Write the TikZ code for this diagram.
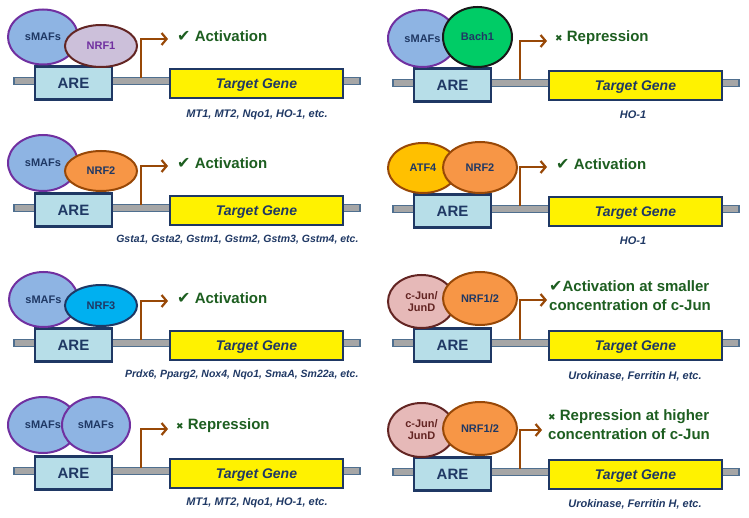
\documentclass[tikz,border=0pt]{standalone}
\usepackage{fontspec}
\setmainfont{Liberation Sans}
\newfontfamily\symfont{DejaVu Sans}
\usetikzlibrary{shapes.geometric, arrows.meta, positioning}
\definecolor{mnavy}{HTML}{1F3864}
\definecolor{mgreen}{HTML}{1D5E20}
\definecolor{mbrown}{HTML}{984807}
\definecolor{mdna}{HTML}{A6A6A6}
\definecolor{mdnaedge}{HTML}{4F6F8F}
\definecolor{mare}{HTML}{B7DEE8}
\definecolor{mmaf}{HTML}{8EB4E3}
\definecolor{mpurp}{HTML}{7030A0}
\definecolor{mlilac}{HTML}{CCC0DA}
\definecolor{mmaroon}{HTML}{632523}
\definecolor{morange}{HTML}{F79646}
\definecolor{mgold}{HTML}{FFC000}
\definecolor{mcyan}{HTML}{00B0F0}
\definecolor{mbach}{HTML}{00CC66}
\definecolor{mpink}{HTML}{E6B9B8}
\newcommand{\markyes}{{\symfont\fontsize{16}{16}\selectfont ✔}}
\newcommand{\markno}{{\symfont\fontsize{9}{9}\selectfont ✖}}
\tikzstyle{dna} = [rectangle, minimum width=346, minimum height=7, inner sep=0, fill=mdna, draw=mdnaedge, line width=1.2pt]
\tikzstyle{are} = [rectangle, minimum width=77, minimum height=33, fill=mare, draw=mnavy, line width=2.5pt, text=mnavy, text depth=0pt, font=\bfseries\fontsize{15}{15}\selectfont]
\tikzstyle{gene} = [rectangle, minimum width=173, minimum height=29, fill=yellow, draw=mnavy, line width=2.5pt, text=mnavy, text depth=0pt, font=\bfseries\itshape\fontsize{14}{14}\selectfont]
\tikzstyle{factor} = [ellipse, inner sep=0, line width=2pt, text=mnavy, font=\bfseries\fontsize{11}{12}\selectfont, align=center]
\tikzstyle{maf} = [factor, fill=mmaf, draw=mpurp]
\tikzstyle{nrf} = [factor, fill=morange, draw=mbrown]
\tikzstyle{jun} = [factor, fill=mpink, draw=mmaroon, text=mmaroon]
\tikzstyle{effect} = [anchor=west, inner sep=0, text=mgreen, font=\bfseries\fontsize{15}{19}\selectfont, align=left]
\tikzstyle{targets} = [text=mnavy, font=\bfseries\itshape\fontsize{11}{11}\selectfont]
\tikzstyle{longtargets} = [targets, anchor=east, font=\bfseries\itshape\fontsize{10.5}{11}\selectfont]
\tikzstyle{cable} = [line width=2.2pt, mbrown, -{Straight Barb[length=5pt,width=12pt]}]

\begin{document}
\begin{tikzpicture}[x=1pt, y=-1pt]
  \useasboundingbox (0,0) rectangle (749,518);
  % sMAFs + NRF1
  \begin{scope}[shift={(0,81)}]
    \node (dna1) [dna] at (187,0) {};
    \node (are1) [are] at (73.5,2) {ARE};
    \node (gene1) [gene] at (256.5,2.5) {Target Gene};
    \node (maf1) [maf, minimum width=70, minimum height=55] at (43,-44) {sMAFs};
    \node (nrf1) [factor, fill=mlilac, draw=mmaroon, text=mpurp, minimum width=72, minimum height=42] at (101,-35) {NRF1};
    \coordinate (tss1) at (141,-3);
    \node (eff1) [effect] at (177,-45) {\markyes\ Activation};
    \draw [cable] (tss1) |- ([xshift=-9pt,yshift=-3pt]eff1.west);
    \node (list1) [targets] at (257,34) {MT1, MT2, Nqo1, HO-1, etc.};
  \end{scope}
  % sMAFs + Bach1
  \begin{scope}[shift={(379,83)}]
    \node (dna2) [dna] at (187,0) {};
    \node (are2) [are] at (73.5,2) {ARE};
    \node (gene2) [gene] at (256.5,2.5) {Target Gene};
    \node (maf2) [maf, minimum width=69, minimum height=57] at (43.5,-44.5) {sMAFs};
    \node (bach2) [factor, fill=mbach, draw=black!90, minimum width=69, minimum height=60] at (98.5,-46) {Bach1};
    \coordinate (tss2) at (141,-3);
    \node (eff2) [effect] at (176,-45) {\markno\ Repression};
    \draw [cable] (tss2) |- ([xshift=-8pt,yshift=-3pt]eff2.west);
    \node (list2) [targets] at (254,32) {HO-1};
  \end{scope}
  % sMAFs + NRF2
  \begin{scope}[shift={(0,208)}]
    \node (dna3) [dna] at (187,0) {};
    \node (are3) [are] at (73.5,2) {ARE};
    \node (gene3) [gene] at (256.5,2.5) {Target Gene};
    \node (maf3) [maf, minimum width=70, minimum height=56] at (43,-45) {sMAFs};
    \node (nrf3) [nrf, minimum width=72, minimum height=40] at (101,-37) {NRF2};
    \coordinate (tss3) at (141,-3);
    \node (eff3) [effect] at (177,-45) {\markyes\ Activation};
    \draw [cable] (tss3) |- ([xshift=-9pt,yshift=-3pt]eff3.west);
    \node (list3) [longtargets] at (362,32) {Gsta1, Gsta2, Gstm1, Gstm2, Gstm3, Gstm4, etc.};
  \end{scope}
  % ATF4 + NRF2
  \begin{scope}[shift={(379,209)}]
    \node (dna4) [dna] at (187,0) {};
    \node (are4) [are] at (73.5,2) {ARE};
    \node (gene4) [gene] at (256.5,2.5) {Target Gene};
    \node (atf4) [factor, fill=mgold, draw=mbrown, minimum width=70, minimum height=50] at (44,-41) {ATF4};
    \node (nrf4) [nrf, minimum width=74, minimum height=51] at (101,-41.5) {NRF2};
    \coordinate (tss4) at (141,-3);
    \node (eff4) [effect] at (177,-45) {\markyes\ Activation};
    \draw [cable] (tss4) |- ([xshift=-9pt,yshift=-3pt]eff4.west);
    \node (list4) [targets] at (254,32) {HO-1};
  \end{scope}
  % sMAFs + NRF3
  \begin{scope}[shift={(0,343)}]
    \node (dna5) [dna] at (187,0) {};
    \node (are5) [are] at (73.5,2) {ARE};
    \node (gene5) [gene] at (256.5,2.5) {Target Gene};
    \node (maf5) [maf, minimum width=69, minimum height=55] at (43.5,-43.5) {sMAFs};
    \node (nrf5) [factor, fill=mcyan, draw=mnavy, minimum width=72, minimum height=41] at (101,-37.5) {NRF3};
    \coordinate (tss5) at (141,-3);
    \node (eff5) [effect] at (177,-45) {\markyes\ Activation};
    \draw [cable] (tss5) |- ([xshift=-9pt,yshift=-3pt]eff5.west);
    \node (list5) [longtargets] at (362,32) {Prdx6, Pparg2, Nox4, Nqo1, SmaA, Sm22a, etc.};
  \end{scope}
  % c-Jun/JunD + NRF1/2, low c-Jun
  \begin{scope}[shift={(379,343)}]
    \node (dna6) [dna] at (187,0) {};
    \node (are6) [are] at (73.5,2) {ARE};
    \node (gene6) [gene] at (256.5,2.5) {Target Gene};
    \node (jun6) [jun, minimum width=67, minimum height=53] at (42.5,-41.5) {c-Jun/\\JunD};
    \node (nrf6) [nrf, minimum width=74, minimum height=53] at (101,-44.5) {NRF1/2};
    \coordinate (tss6) at (141,-3);
    \node (eff6) [effect] at (170,-47) {\markyes Activation at smaller\\concentration of c-Jun};
    \draw [cable] (tss6) |- ([xshift=-2pt,yshift=-4pt]eff6.west);
    \node (list6) [targets] at (256,33) {Urokinase, Ferritin H, etc.};
  \end{scope}
  % sMAFs + sMAFs
  \begin{scope}[shift={(0,471)}]
    \node (dna7) [dna] at (187,0) {};
    \node (are7) [are] at (73.5,2) {ARE};
    \node (gene7) [gene] at (256.5,2.5) {Target Gene};
    \node (maf7) [maf, minimum width=70, minimum height=56] at (43,-46) {sMAFs};
    \node (maf7b) [maf, minimum width=68, minimum height=56] at (96,-46) {sMAFs};
    \coordinate (tss7) at (141,-3);
    \node (eff7) [effect] at (176,-45) {\markno\ Repression};
    \draw [cable] (tss7) |- ([xshift=-8pt,yshift=-3pt]eff7.west);
    \node (list7) [targets] at (257,32) {MT1, MT2, Nqo1, HO-1, etc.};
  \end{scope}
  % c-Jun/JunD + NRF1/2, high c-Jun
  \begin{scope}[shift={(379,472)}]
    \node (dna8) [dna] at (187,0) {};
    \node (are8) [are] at (73.5,2) {ARE};
    \node (gene8) [gene] at (256.5,2.5) {Target Gene};
    \node (jun8) [jun, minimum width=67, minimum height=54] at (42.5,-42) {c-Jun/\\JunD};
    \node (nrf8) [nrf, minimum width=74, minimum height=53] at (101,-43.5) {NRF1/2};
    \coordinate (tss8) at (141,-3);
    \node (eff8) [effect] at (169,-47) {\markno\ Repression at higher\\concentration of c-Jun};
    \draw [cable] (tss8) |- ([xshift=-6pt,yshift=-5pt]eff8.west);
    \node (list8) [targets] at (256,32) {Urokinase, Ferritin H, etc.};
  \end{scope}
\end{tikzpicture}
\end{document}
